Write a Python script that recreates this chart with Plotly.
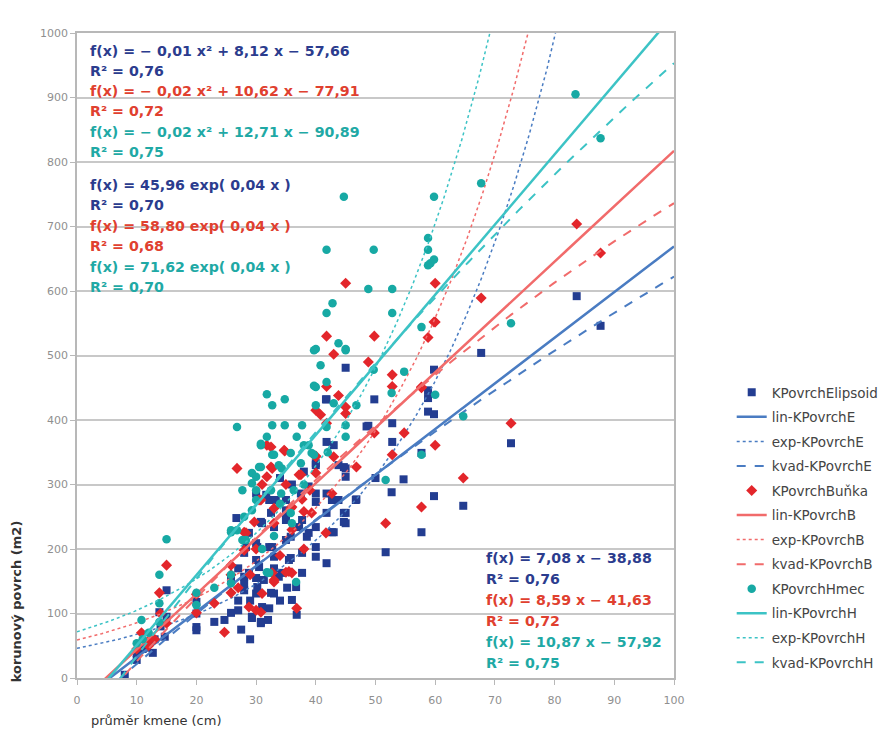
import numpy as np
import plotly.graph_objects as go

# ---------------- data ----------------
e_pts = [(8,5),(10,28),(10,39),(11,45),(11.7,47),(12.7,39),(12,55),(13,60),(14.7,64),(13.8,102),(15,136),(14,80),(15,95),
         (20,79),(20,74),(20,100),(20,118),(23,87),(24.7,90),(25.8,101),(25.8,152),(26.7,248),(28,136),(28,157),(28.3,203),
         (30,183),(29.3,95),(30.8,87),(32.5,132),(27,170),(27,120),(27,105),(29,120),
         (45,481),(59.8,478),(58.8,446),(58.8,434),(58.8,413),(59.8,409),(49.8,432),(41.8,432),(48.8,391),(52.8,395),
         (52.8,366),(57.7,349),(41.8,366),(43,361),(43.8,330),(45,325),(45,312),(40,333),(50,310),(54.7,308),(52.7,288),
         (59.8,282),(64.7,267),(46.8,277),(41.8,286),(43,276),(40,286),(40,273),(38.8,297),(37.5,286),(41.8,256),(45,256),
         (45,240),(57.7,226),(51.7,195),(43,226),(40,234),(37.7,245),(35,260),(32.2,276),(30,286),(35,245),(33,234),
         (35.8,219),(38.5,219),(40,188),(41.8,178),(37.7,194),(37.7,163),(35.8,186),(35.2,140),(36,121),(36.8,98),
         (32.2,108),(30.8,85),(29.3,93),(30,209),(32.2,203),(33,188),(30,155),(31.3,152),(33,131),(34.3,163),(30,131),
         (67.7,504),(72.7,364),(83.7,592),(87.7,546),(31.7,284),(33.3,276),(35,276),(42.7,276),(43.8,276),(46.7,276),
         (32.5,256),(35,253),(30.8,242),(28.8,225),(37.2,234),(38.8,225),(42.7,226),(44.7,256),(44.7,242),(40,203),
         (35,214),(32.7,203),(30.2,203),(28,194),(35.5,183),(30.5,172),(28.8,163),(33.8,157),(36.7,141),(28,147),
         (30.2,141),(40,330),(44.7,327),(48.5,390),(41.7,432),(36,300),(34,310),(38,320),(31,240),(33,170),(34,120),
         (31,110),(29,60),(32,90),(27.5,75)]
b_pts = [(10.8,70),(11.8,56),(10,45),(12,50),(13,60),(13.8,132),(15,175),(15,85),(14,100),(20,101),(20,130),(23,116),
         (24.7,71),(25.8,132),(25.8,175),(25.8,160),(26.8,325),(28,226),(28,198),(28.8,110),(30.8,102),(32.7,163),
         (32.5,358),(32.5,327),(30,105),(31,131),(33,149),(35.5,165),(36.8,108),(36,163),(35,164),(33,152),
         (45,612),(60,612),(41.8,530),(49.8,530),(60,552),(58.8,528),(43,502),(48.8,490),(52.8,470),(52.8,452),
         (57.7,451),(41.8,452),(43.8,438),(40,415),(40.8,408),(45,420),(45,410),(41.8,395),(49.8,380),(54.8,380),
         (52.8,346),(60,361),(31.8,361),(34.8,352),(40,343),(43,343),(46.8,327),(32.7,325),(37.5,315),(31.8,312),
         (40,318),(30.5,276),(37.7,277),(39,291),(42.7,286),(33,263),(35.8,263),(38,258),(41.7,225),(51.7,240),
         (57.7,265),(64.7,310),(67.7,589),(72.7,395),(83.7,704),(87.7,659),(59.8,552),(57.7,450),(39.3,256),(36,265),
         (29.7,242),(28.3,225),(30.8,276),(34.7,353),(37.2,315),(40,344),(36,230),(33,240),(30,200),(34,190),(38,200),
         (29,160),(31,300),(27,140),(35,300)]
h_pts = [(10,54),(10.8,90),(13.8,87),(13.8,116),(13.8,160),(15,215),(12,70),(11,60),(20,132),(20,113),(23,140),
         (25.8,160),(25.8,147),(25.8,226),(25.8,229),(26.8,229),(27.7,214),(27.7,291),(26.8,389),(28.3,214),(29.3,260),
         (29.3,318),(30,291),(30.8,361),(32.7,346),(30.8,327),(31.8,164),(32.2,163),(36.7,149),
         (59.2,643),(48.8,603),(52.8,603),(52.8,566),(42.8,581),(41.8,566),(40,510),(43.8,519),(45,510),(40.8,485),
         (49.7,478),(54.8,475),(52.7,442),(57.7,544),(60,439),(40,451),(41.8,459),(43,426),(46.8,423),(40,423),
         (31.8,440),(32.7,423),(34.8,432),(32.7,392),(34.8,392),(37.7,392),(31.8,374),(36.8,374),(45,392),(45,374),
         (41.8,389),(30.8,363),(33,346),(35.8,349),(38,361),(39.3,349),(30.5,327),(34.3,325),(37.5,333),(30,312),
         (32.5,291),(36.3,291),(30,276),(35.8,256),(51.7,307),(57.7,346),(44.7,746),(59.8,746),(67.7,767),(41.8,664),
         (49.7,664),(58.8,682),(58.8,664),(59.8,649),(58.8,640),(72.7,550),(64.7,406),(83.5,905),(87.7,837),(39.7,508),
         (45,508),(39.7,453),(33.8,330),(29.3,302),(34.2,286),(38.8,361),(39.7,346),(36,240),(33,220),(31,200),
         (34,270),(38,300),(42,350),(28,250)]

# trend line coefficients (linear: a, b ; exponential: A, k ; quadratic: a2, a1, a0)
lin_coef = {"E": (7.08, -38.88), "B": (8.59, -41.63), "H": (10.87, -57.92)}
exp_coef = {"E": (45.96, 0.0384), "B": (58.80, 0.0375), "H": (71.62, 0.0381)}
kvad_coef = {"E": (-0.0132, 8.12, -57.66), "B": (-0.0248, 10.62, -77.91), "H": (-0.0227, 12.71, -90.89)}

series_names = {"E": "KPovrchElipsoid", "B": "KPovrchBuňka", "H": "KPovrchHmec"}
short = {"E": "KPovrchE", "B": "KPovrchB", "H": "KPovrchH"}

eq_quad = [("f(x) = − 0,01 x² + 8,12 x − 57,66", "R² = 0,76"),
           ("f(x) = − 0,02 x² + 10,62 x − 77,91", "R² = 0,72"),
           ("f(x) = − 0,02 x² + 12,71 x − 90,89", "R² = 0,75")]
eq_exp = [("f(x) = 45,96 exp( 0,04 x )", "R² = 0,70"),
          ("f(x) = 58,80 exp( 0,04 x )", "R² = 0,68"),
          ("f(x) = 71,62 exp( 0,04 x )", "R² = 0,70")]
eq_lin = [("f(x) = 7,08 x − 38,88", "R² = 0,76"),
          ("f(x) = 8,59 x − 41,63", "R² = 0,72"),
          ("f(x) = 10,87 x − 57,92", "R² = 0,75")]

x_ticks = list(range(0, 101, 10))
y_ticks = list(range(0, 1001, 100))

# ---------------- styles ----------------
FONT = "DejaVu Sans, Verdana, sans-serif"
marker_col = {"E": "#233d91", "B": "#e3262b", "H": "#17a9a4"}
line_col = {"E": "#4a7cc2", "B": "#f16b6b", "H": "#3cc3c5"}
text_col = {"E": "#2b3c8e", "B": "#e0402f", "H": "#1fa9a5"}
symbols = {"E": "square", "B": "diamond", "H": "circle"}
msize = {"E": 8, "B": 8.5, "H": 8.5}

fig = go.Figure()
xs = np.linspace(0, 100, 801)
pts = {"E": e_pts, "B": b_pts, "H": h_pts}
g = 0
for key in ["E", "B", "H"]:
    px_ = [p[0] for p in pts[key]]
    py_ = [p[1] for p in pts[key]]
    fig.add_trace(go.Scatter(x=px_, y=py_, mode="markers", name=series_names[key],
                             legendgroup=f"g{g}",
                             marker=dict(symbol=symbols[key], size=msize[key], color=marker_col[key],
                                         line=dict(width=0))))
    g += 1
    a, b = lin_coef[key]
    fig.add_trace(go.Scatter(x=xs, y=a * xs + b, mode="lines", name="lin-" + short[key],
                             legendgroup=f"g{g}", line=dict(color=line_col[key], width=2.5)))
    g += 1
    A, k = exp_coef[key]
    fig.add_trace(go.Scatter(x=xs, y=A * np.exp(k * xs), mode="lines", name="exp-" + short[key],
                             legendgroup=f"g{g}", line=dict(color=line_col[key], width=1.5, dash="dot")))
    g += 1
    a2, a1, a0 = kvad_coef[key]
    fig.add_trace(go.Scatter(x=xs, y=a2 * xs ** 2 + a1 * xs + a0, mode="lines", name="kvad-" + short[key],
                             legendgroup=f"g{g}", line=dict(color=line_col[key], width=2, dash="dash")))
    g += 1

# ---------------- layout ----------------
OFF = 8  # page body margin
W, H = 888, 723
L, R, T, B = 69, 219, 25, 53
pw, ph = W - L - R, H - T - B


def pxx(px):
    return (px - OFF - L) / pw


def pxy(py):
    return (H - B - (py - OFF)) / ph


ann = []
keys = ["E", "B", "H"]
eq_font = dict(family=FONT, size=14.2)
ys_quad = [51, 71, 91, 111, 132, 152]
ys_exp = [185, 205, 226, 246, 267, 287]
for i, key in enumerate(keys):
    for j in range(2):
        ann.append(dict(x=pxx(88), y=pxy(ys_quad[2 * i + j]), xref="paper", yref="paper",
                        text="<b>" + eq_quad[i][j] + "</b>", showarrow=False, xanchor="left", yanchor="middle",
                        font=dict(color=text_col[key], **eq_font)))
        ann.append(dict(x=pxx(88), y=pxy(ys_exp[2 * i + j]), xref="paper", yref="paper",
                        text="<b>" + eq_exp[i][j] + "</b>", showarrow=False, xanchor="left", yanchor="middle",
                        font=dict(color=text_col[key], **eq_font)))
ys_lin = [558, 579, 600, 621, 642, 663]
for i, key in enumerate(keys):
    for j in range(2):
        ann.append(dict(x=pxx(486), y=pxy(ys_lin[2 * i + j]), xref="paper", yref="paper",
                        text="<b>" + eq_lin[i][j] + "</b>", showarrow=False, xanchor="left", yanchor="middle",
                        font=dict(color=text_col[key], **eq_font)))

# axis titles (aligned to the axis start, as in the reference)
ann.append(dict(x=pxx(89), y=pxy(720), xref="paper", yref="paper", text="průměr kmene (cm)",
                showarrow=False, xanchor="left", yanchor="middle",
                font=dict(family=FONT, size=13, color="#333333")))
ann.append(dict(x=pxx(16), y=pxy(684), xref="paper", yref="paper", text="<b>korunový povrch (m2)</b>",
                showarrow=False, xanchor="center", yanchor="bottom", textangle=-90,
                font=dict(family=FONT, size=13, color="#333333")))

fig.update_layout(
    width=W, height=H,
    margin=dict(l=L, r=R, t=T, b=B),
    paper_bgcolor="white", plot_bgcolor="white",
    font=dict(family=FONT, size=11, color="#444444"),
    showlegend=True,
    legend=dict(x=pxx(735), y=pxy(377), xanchor="left", yanchor="top",
                traceorder="grouped", tracegroupgap=4,
                font=dict(family=FONT, size=13.5, color="#444444"), bgcolor="rgba(0,0,0,0)"),
    annotations=ann,
    xaxis=dict(range=[0, 100], tickvals=x_ticks, ticktext=[str(v) for v in x_ticks],
               showgrid=False, zeroline=False, showline=True, linecolor="#b8b8b8", linewidth=1.5,
               mirror=True, ticks="outside", ticklen=5, tickcolor="#b8b8b8", ticklabelstandoff=6,
               tickfont=dict(family=FONT, size=11, color="#8f8f8f")),
    yaxis=dict(range=[0, 1000], tickvals=y_ticks, ticktext=[str(v) for v in y_ticks],
               showgrid=True, gridcolor="#c8c8c8", gridwidth=1.5, zeroline=False,
               showline=True, linecolor="#b8b8b8", linewidth=1.5, mirror=True,
               ticks="outside", ticklen=5, tickcolor="#b8b8b8",
               tickfont=dict(family=FONT, size=11, color="#8f8f8f")),
)

fig.write_html("out.html")
